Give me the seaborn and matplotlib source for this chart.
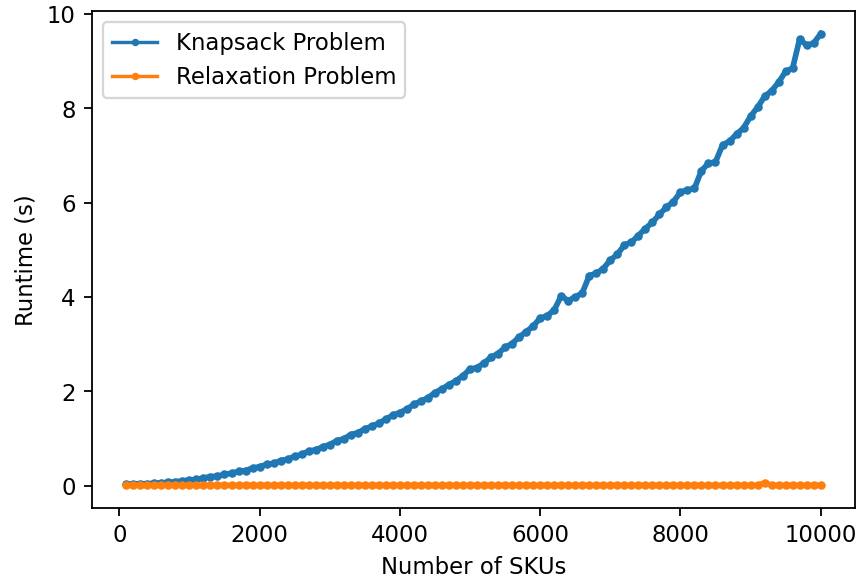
import matplotlib
matplotlib.use("Agg")
import matplotlib.pyplot as plt
import seaborn as sns

# ---- data ----
sku_counts = list(range(100, 10001, 100))

knapsack_runtime = [
    0.03, 0.035, 0.04, 0.04, 0.05, 0.06, 0.07, 0.08, 0.10, 0.12,
    0.13, 0.16, 0.19, 0.20, 0.24, 0.26, 0.30, 0.32, 0.37, 0.40,
    0.45, 0.47, 0.53, 0.56, 0.62, 0.66, 0.73, 0.76, 0.82, 0.87,
    0.95, 0.99, 1.08, 1.12, 1.20, 1.26, 1.32, 1.41, 1.49, 1.55,
    1.62, 1.72, 1.79, 1.86, 1.97, 2.05, 2.14, 2.22, 2.33, 2.47,
    2.50, 2.60, 2.72, 2.80, 2.93, 3.01, 3.15, 3.26, 3.38, 3.55,
    3.60, 3.72, 4.02, 3.92, 4.00, 4.08, 4.45, 4.50, 4.60, 4.78,
    4.90, 5.10, 5.16, 5.30, 5.45, 5.58, 5.75, 5.90, 6.02, 6.22,
    6.27, 6.30, 6.68, 6.83, 6.86, 7.22, 7.30, 7.45, 7.58, 7.83,
    8.02, 8.25, 8.37, 8.55, 8.78, 8.85, 9.47, 9.33, 9.38, 9.58,
]

relaxation_runtime = [
    0.005, 0.005, 0.005, 0.005, 0.005, 0.005, 0.005, 0.005, 0.005, 0.005,
    0.005, 0.005, 0.005, 0.005, 0.005, 0.005, 0.005, 0.005, 0.005, 0.005,
    0.005, 0.005, 0.005, 0.005, 0.005, 0.005, 0.005, 0.005, 0.005, 0.005,
    0.005, 0.005, 0.005, 0.005, 0.005, 0.005, 0.005, 0.005, 0.005, 0.005,
    0.005, 0.005, 0.005, 0.005, 0.005, 0.005, 0.005, 0.005, 0.005, 0.005,
    0.005, 0.005, 0.005, 0.005, 0.005, 0.005, 0.005, 0.005, 0.005, 0.005,
    0.005, 0.005, 0.005, 0.005, 0.005, 0.005, 0.005, 0.005, 0.005, 0.005,
    0.005, 0.005, 0.005, 0.005, 0.005, 0.005, 0.005, 0.005, 0.005, 0.005,
    0.005, 0.005, 0.005, 0.005, 0.005, 0.005, 0.005, 0.005, 0.005, 0.005,
    0.005, 0.06, 0.005, 0.005, 0.005, 0.005, 0.005, 0.005, 0.005, 0.005,
]

series_labels = ["Knapsack Problem", "Relaxation Problem"]
x_ticks = [0, 2000, 4000, 6000, 8000, 10000]
y_ticks = [0, 2, 4, 6, 8, 10]

DPI = 163.4
fig = plt.figure(figsize=(857.4 / DPI, 584.4 / DPI), dpi=DPI)
ax = fig.add_axes([0.1068, 0.1301, 0.8909, 0.8502])

blue, orange = "#1f77b4", "#ff7f0e"
sns.lineplot(x=sku_counts, y=knapsack_runtime, marker=".", color=blue,
             markeredgecolor=blue, markersize=6, linewidth=2.5,
             label=series_labels[0], ax=ax)
sns.lineplot(x=sku_counts, y=relaxation_runtime, marker=".", color=orange,
             markeredgecolor=orange, markersize=6, linewidth=2.5,
             label=series_labels[1], ax=ax)

ax.set_xticks(x_ticks)
ax.set_yticks(y_ticks)
ax.set_xlabel("Number of SKUs")
ax.set_ylabel("Runtime (s)")
leg = ax.legend(loc="upper left")
for line in leg.get_lines():
    line.set_markersize(5)
    line.set_linewidth(1.5)

fig.savefig("out.png", dpi=DPI)
